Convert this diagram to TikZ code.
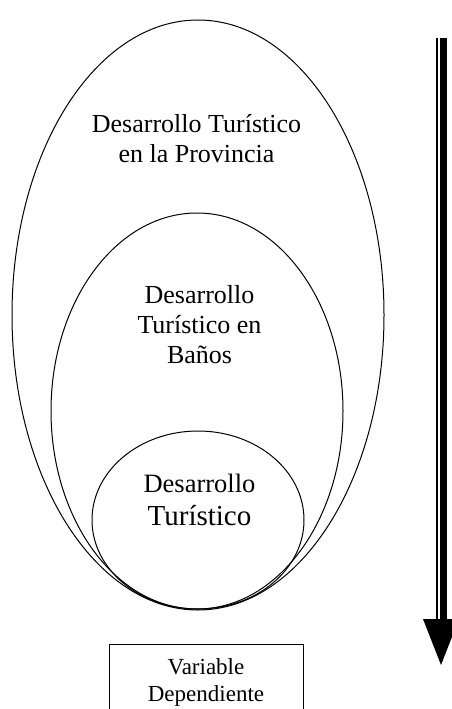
\documentclass[tikz,border=0pt]{standalone}
\usepackage{fontspec}
\setmainfont{Liberation Serif}
\usetikzlibrary{shapes.geometric}

\begin{document}
\begin{tikzpicture}[x=1pt,y=1pt,yscale=-1,
  ovalo/.style={draw, ellipse, line width=1pt, inner sep=0pt},
  texto/.style={align=center, inner sep=0pt, anchor=base}]
\clip (0,0) rectangle (452,709);

%Shape: Ellipse
\node [ovalo, minimum width=372pt, minimum height=590pt] (provincia) at (198,315) {};
%Shape: Ellipse
\node [ovalo, minimum width=292pt, minimum height=396pt] (banos) at (197,411) {};
%Shape: Ellipse
\node [ovalo, minimum width=212pt, minimum height=178pt] (turistico) at (198,520) {};

% Text Node
\node [texto, font=\fontsize{26}{30}\selectfont] (tprovincia) at (196.5,162) {Desarrollo Turístico\\en la Provincia};
% Text Node
\node [texto, font=\fontsize{26}{30}\selectfont] (tbanos) at (199.5,363) {Desarrollo\\Turístico en\\Baños};
% Text Node
\node [texto, font=\fontsize{26.5}{33}\selectfont] (tturistico) at (199.5,525) {Desarrollo\\\fontsize{29}{33}\selectfont Turístico};

% Text Node
\node [draw, line width=1pt, minimum width=194pt, minimum height=76pt, inner sep=0pt, align=center, font=\fontsize{23}{27}\selectfont] (variable) at (206,682) {Variable\\Dependiente};

%Block Arrow
\coordinate (flechaIni) at (441.5,38);
\coordinate (flechaFin) at (441.5,619);
\coordinate (flechaPunta) at (441,665);
\draw [line width=2pt] ([xshift=-4.8pt]flechaIni) -- ([xshift=-4.8pt]flechaFin);
\draw [line width=7.3pt] ([xshift=2.2pt]flechaIni) -- ([xshift=2.2pt]flechaFin);
\fill ([xshift=-18.5pt]flechaFin) -- ([xshift=17.5pt]flechaFin) -- (flechaPunta) -- cycle;

\end{tikzpicture}
\end{document}
